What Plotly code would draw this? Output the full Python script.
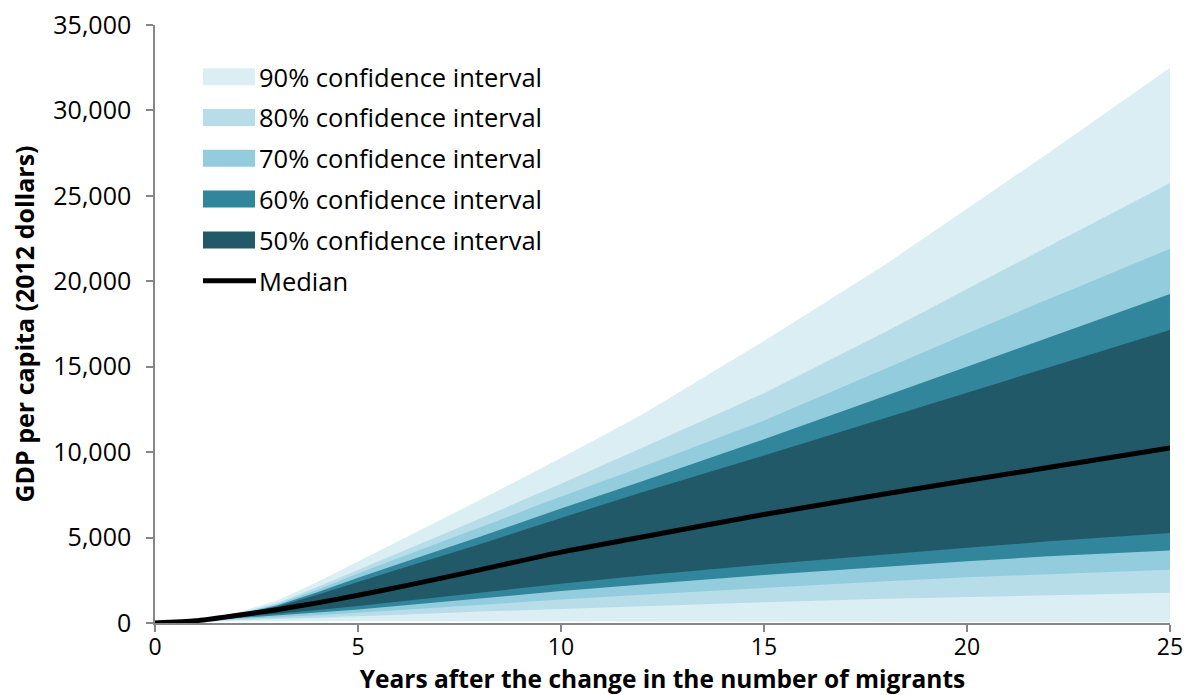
import plotly.graph_objects as go

# ---------------- data ----------------
years = [0, 1, 2, 3, 4, 5, 6, 7, 8, 10, 12, 15, 18, 20, 22, 25]
median = [0, 130, 440, 780, 1180, 1620, 2100, 2600, 3110, 4150, 5030, 6350, 7560, 8340, 9100, 10250]
hi90 = [0, 150, 600, 1300, 2400, 3600, 4800, 6000, 7200, 9650, 12200, 16500, 21000, 24250, 27500, 32500]
hi80 = [0, 140, 540, 1150, 2100, 3100, 4100, 5100, 6100, 8150, 10250, 13450, 17050, 19550, 22050, 25750]
hi70 = [0, 140, 520, 1080, 1950, 2900, 3800, 4700, 5600, 7400, 9150, 11850, 14900, 16950, 18950, 21900]
hi60 = [0, 135, 490, 1020, 1800, 2650, 3450, 4250, 5050, 6700, 8300, 10750, 13300, 15000, 16700, 19250]
hi50 = [0, 130, 470, 950, 1650, 2420, 3150, 3880, 4610, 6150, 7650, 9800, 12000, 13500, 14950, 17150]
lo50 = [0, 120, 320, 540, 760, 990, 1240, 1500, 1770, 2300, 2780, 3430, 4000, 4400, 4780, 5270]
lo60 = [0, 115, 280, 450, 610, 790, 990, 1210, 1430, 1870, 2250, 2810, 3300, 3620, 3900, 4250]
lo70 = [0, 110, 230, 340, 450, 570, 730, 890, 1050, 1370, 1650, 2070, 2450, 2680, 2880, 3120]
lo80 = [0, 100, 180, 240, 300, 370, 470, 570, 670, 850, 990, 1210, 1420, 1530, 1630, 1770]
lo90 = [0, 80, 100, 110, 110, 100, 100, 100, 100, 100, 90, 90, 80, 70, 60, 50]

band_names = ["90% confidence interval", "80% confidence interval", "70% confidence interval",
              "60% confidence interval", "50% confidence interval"]
band_upper = [hi90, hi80, hi70, hi60, hi50]
band_lower = [lo90, lo80, lo70, lo60, lo50]
median_name = "Median"

x_ticks = [0, 5, 10, 15, 20, 25]
y_ticks = [0, 5000, 10000, 15000, 20000, 25000, 30000, 35000]

# ---------------- style ----------------
band_colors = ["#DBEEF3", "#B7DDE8", "#93CDDD", "#31869B", "#215968"]
FONT = "Open Sans"
AXIS_COLOR = "#868686"

W, H = 1185, 695
PLOT_L, PLOT_R, PLOT_T, PLOT_B = 155, 1170, 25, 623   # pixels
ML, MT = PLOT_L, PLOT_T
MR = W - PLOT_R
MB = H - PLOT_B
PW, PH = PLOT_R - PLOT_L, PLOT_B - PLOT_T


def px_to_paper_x(px):
    return (px - PLOT_L) / PW


def px_to_paper_y(py):
    return (PLOT_B - py) / PH


fig = go.Figure()

for name, up, lo, col in zip(band_names, band_upper, band_lower, band_colors):
    fig.add_trace(go.Scatter(
        x=years + years[::-1],
        y=up + lo[::-1],
        fill="toself",
        fillcolor=col,
        line=dict(width=0, color=col),
        mode="lines",
        name=name,
        showlegend=False,
        hoverinfo="skip",
    ))

fig.add_trace(go.Scatter(
    x=years, y=median, mode="lines", name=median_name,
    line=dict(color="black", width=5, shape="spline", smoothing=0.6), showlegend=False,
))

# ---------------- manual legend (swatches + real text) ----------------
legend_x0, legend_x1 = 203, 255
legend_text_x = 257
legend_y0 = 76.7
legend_dy = 40.8
swatch_h = 17
LEG_FONT = 25.5

shapes = []
annotations = []
for i, (name, col) in enumerate(zip(band_names, band_colors)):
    cy = legend_y0 + i * legend_dy
    shapes.append(dict(type="rect", xref="paper", yref="paper",
                       x0=px_to_paper_x(legend_x0), x1=px_to_paper_x(legend_x1),
                       y0=px_to_paper_y(cy + swatch_h / 2), y1=px_to_paper_y(cy - swatch_h / 2),
                       fillcolor=col, line=dict(width=0), layer="above"))
    annotations.append(dict(xref="paper", yref="paper", x=px_to_paper_x(legend_text_x),
                            y=px_to_paper_y(cy), text=name, showarrow=False,
                            xanchor="left", yanchor="middle",
                            font=dict(family=FONT, size=LEG_FONT, color="black")))
cy = legend_y0 + len(band_names) * legend_dy
shapes.append(dict(type="line", xref="paper", yref="paper",
                   x0=px_to_paper_x(legend_x0), x1=px_to_paper_x(legend_x1 + 1),
                   y0=px_to_paper_y(cy), y1=px_to_paper_y(cy),
                   line=dict(color="black", width=5), layer="above"))
annotations.append(dict(xref="paper", yref="paper", x=px_to_paper_x(legend_text_x),
                        y=px_to_paper_y(cy), text=median_name, showarrow=False,
                        xanchor="left", yanchor="middle",
                        font=dict(family=FONT, size=LEG_FONT, color="black")))

fig.update_layout(
    width=W, height=H,
    margin=dict(l=ML, r=MR, t=MT, b=MB, autoexpand=False),
    paper_bgcolor="white", plot_bgcolor="white",
    font=dict(family=FONT, color="black"),
    shapes=shapes, annotations=annotations,
    showlegend=False,
)

fig.update_xaxes(
    range=[0, 25], tickvals=x_ticks, ticktext=[str(v) for v in x_ticks],
    showgrid=False, zeroline=False,
    showline=True, linecolor=AXIS_COLOR, linewidth=1.5,
    ticks="outside", ticklen=7, tickcolor=AXIS_COLOR, tickwidth=1.5,
    tickfont=dict(family=FONT, size=23, color="black"),
    ticklabeloverflow="allow",
    ticklabelstandoff=-4,
    title=dict(text="<b>Years after the change in the number of migrants</b>",
               font=dict(family=FONT, size=24.5, color="black"), standoff=6),
)
fig.update_yaxes(
    range=[0, 35000], tickvals=y_ticks, tickformat=",d",
    showgrid=False, zeroline=False,
    showline=True, linecolor=AXIS_COLOR, linewidth=1.5,
    ticks="outside", ticklen=7, tickcolor=AXIS_COLOR, tickwidth=1.5,
    tickfont=dict(family=FONT, size=25, color="black"),
    ticklabeloverflow="allow",
    ticklabelstandoff=10,
    title=dict(text="<b>GDP per capita (2012 dollars)</b>",
               font=dict(family=FONT, size=25, color="black"), standoff=12),
)

fig.write_html(
    "out.html",
    config={"displayModeBar": False},
    post_script="document.body.style.margin='0';document.body.style.overflow='hidden';",
)
